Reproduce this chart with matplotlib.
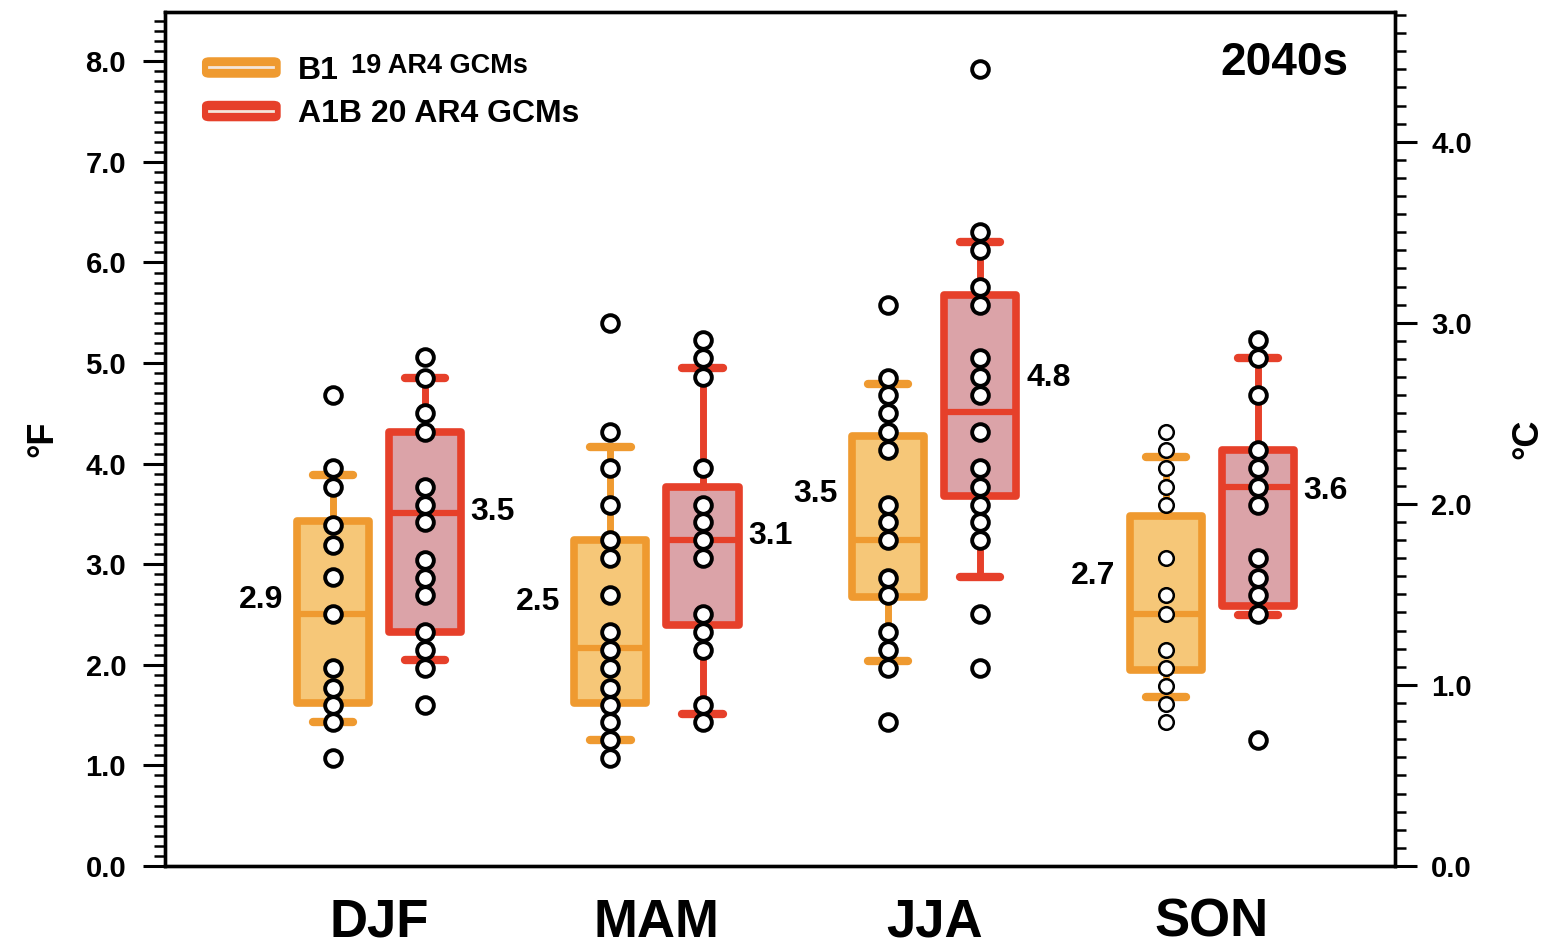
import numpy as np
import matplotlib
matplotlib.use("Agg")
import matplotlib.pyplot as plt
from matplotlib.patches import FancyBboxPatch
from matplotlib.ticker import MultipleLocator, FormatStrFormatter

plt.rcParams['font.family'] = ['Liberation Sans', 'DejaVu Sans']
plt.rcParams['font.weight'] = 'bold'

seasons = ["DJF", "MAM", "JJA", "SON"]

# individual GCM values (deg F)
b1_points = [
    [4.68, 3.96, 3.77, 3.39, 3.19, 2.87, 2.51, 1.97, 1.77, 1.60, 1.43, 1.07],
    [5.40, 4.31, 3.96, 3.59, 3.24, 3.06, 2.69, 2.33, 2.15, 1.97, 1.77, 1.60, 1.43, 1.25, 1.07],
    [5.58, 4.85, 4.68, 4.50, 4.31, 4.14, 3.59, 3.42, 3.24, 2.86, 2.69, 2.33, 2.15, 1.97, 1.43],
    [4.31, 4.14, 3.96, 3.77, 3.59, 3.06, 2.69, 2.51, 2.15, 1.97, 1.79, 1.61, 1.43],
]
a1b_points = [
    [5.06, 4.85, 4.50, 4.31, 3.77, 3.59, 3.42, 3.04, 2.86, 2.69, 2.33, 2.15, 1.97, 1.60],
    [5.23, 5.05, 4.86, 3.96, 3.59, 3.42, 3.24, 3.06, 2.51, 2.33, 2.15, 1.60, 1.43],
    [7.92, 6.30, 6.12, 5.76, 5.58, 5.05, 4.86, 4.68, 4.31, 3.96, 3.77, 3.59, 3.42, 3.24, 2.51, 1.97],
    [5.23, 5.05, 4.68, 4.14, 3.96, 3.77, 3.59, 3.06, 2.86, 2.69, 2.51, 1.25],
]

# box statistics
b1_q1 = [1.62, 1.62, 2.67, 1.95]
b1_med = [2.51, 2.17, 3.24, 2.51]
b1_q3 = [3.43, 3.24, 4.27, 3.48]
b1_lo = [1.43, 1.25, 2.04, 1.68]
b1_hi = [3.89, 4.17, 4.79, 4.07]

a1b_q1 = [2.33, 2.40, 3.68, 2.58]
a1b_med = [3.51, 3.24, 4.51, 3.77]
a1b_q3 = [4.31, 3.77, 5.68, 4.14]
a1b_lo = [2.05, 1.51, 2.87, 2.50]
a1b_hi = [4.85, 4.95, 6.20, 5.05]

# mean labels
b1_mean_txt = ["2.9", "2.5", "3.5", "2.7"]
b1_mean_y = [2.64, 2.62, 3.70, 2.88]
a1b_mean_txt = ["3.5", "3.1", "4.8", "3.6"]
a1b_mean_y = [3.52, 3.28, 4.85, 3.73]

orange = "#EF9A30"
orange_fill = "#F6C778"
red = "#E6402A"
red_fill = "#DBA3A8"

fig = plt.figure(figsize=(15.5, 9.51), dpi=100)
ax = fig.add_axes([0.1065, 0.0894, 0.7935, 0.898])

x = np.arange(4)
off = 0.166
bw = 0.26


def stats(q1, med, q3, lo, hi):
    return [dict(q1=a, med=b, q3=c, whislo=d, whishi=e, fliers=[])
            for a, b, c, d, e in zip(q1, med, q3, lo, hi)]


def draw(st, pos, edge, fill):
    ax.bxp(st, positions=pos, widths=bw, capwidths=0.145, patch_artist=True,
           showfliers=False, manage_ticks=False,
           boxprops=dict(facecolor=fill, edgecolor=edge, linewidth=5.5, joinstyle='round'),
           medianprops=dict(color=edge, linewidth=4.5),
           whiskerprops=dict(color=edge, linewidth=5),
           capprops=dict(color=edge, linewidth=6, solid_capstyle='round'),
           zorder=2)


draw(stats(b1_q1, b1_med, b1_q3, b1_lo, b1_hi), x - off, orange, orange_fill)
draw(stats(a1b_q1, a1b_med, a1b_q3, a1b_lo, a1b_hi), x + off, red, red_fill)

for i in range(4):
    ms, mew = (12, 2.8) if i < 3 else (10.5, 1.8)
    ax.plot([x[i] - off] * len(b1_points[i]), b1_points[i], 'o', ms=ms, mfc='white',
            mec='black', mew=mew, zorder=4)
    ax.plot([x[i] + off] * len(a1b_points[i]), a1b_points[i], 'o', ms=12, mfc='white',
            mec='black', mew=2.8, zorder=4)
    ax.text(x[i] - off - bw / 2 - 0.05, b1_mean_y[i], b1_mean_txt[i], ha='right',
            va='center', fontsize=23, fontweight='bold')
    ax.text(x[i] + off + bw / 2 + 0.035, a1b_mean_y[i], a1b_mean_txt[i], ha='left',
            va='center', fontsize=23, fontweight='bold')

ax.set_xlim(-0.77, 3.66)
ax.set_ylim(0, 8.49)
ax.set_xticks(x)
ax.set_xticklabels(seasons, fontsize=38, fontweight='bold')
ax.tick_params(axis='x', length=0, pad=23)

ax.yaxis.set_major_locator(MultipleLocator(1.0))
ax.yaxis.set_minor_locator(MultipleLocator(0.1))
ax.yaxis.set_major_formatter(FormatStrFormatter('%.1f'))
ax.tick_params(axis='y', which='major', length=16, width=2.2, labelsize=21, pad=12)
ax.tick_params(axis='y', which='minor', length=8, width=1.8)
for lab in ax.get_yticklabels():
    lab.set_fontweight('bold')
for s in ax.spines.values():
    s.set_linewidth(2.4)
ax.set_ylabel("°F", fontsize=26, fontweight='bold', labelpad=18)

ax2 = ax.twinx()
ax2.set_ylim(0, 8.49 * 5 / 9)
ax2.yaxis.set_major_locator(MultipleLocator(1.0))
ax2.yaxis.set_minor_locator(MultipleLocator(0.1))
ax2.yaxis.set_major_formatter(FormatStrFormatter('%.1f'))
ax2.tick_params(axis='y', which='major', length=16, width=2.2, labelsize=21, pad=10)
ax2.tick_params(axis='y', which='minor', length=8, width=1.8)
for lab in ax2.get_yticklabels():
    lab.set_fontweight('bold')
for s in ax2.spines.values():
    s.set_linewidth(2.4)
ax2.set_ylabel("°C", fontsize=26, fontweight='bold', labelpad=28)

# legend drawn by hand
for yy, col, big, small in [(0.935, orange, "B1", "19 AR4 GCMs"),
                            (0.884, red, "A1B", "20 AR4 GCMs")]:
    ax.add_patch(FancyBboxPatch((0.03, yy - 0.012), 0.064, 0.024,
                                boxstyle="round,pad=0,rounding_size=0.006",
                                transform=ax.transAxes, facecolor=col,
                                edgecolor='none', zorder=5))
    ax.plot([0.036, 0.088], [yy, yy], transform=ax.transAxes, color='#F4E6DA',
            lw=2, zorder=6)
    if big == "B1":
        ax.text(0.108, yy - 0.004, big, transform=ax.transAxes, fontsize=23,
                fontweight='bold', va='center')
        ax.text(0.151, yy + 0.002, small, transform=ax.transAxes, fontsize=19.5,
                fontweight='bold', va='center')
    else:
        ax.text(0.108, yy - 0.004, big + " " + small, transform=ax.transAxes,
                fontsize=23, fontweight='bold', va='center')

ax.text(0.962, 0.94, "2040s", transform=ax.transAxes, ha='right', va='center',
        fontsize=33, fontweight='bold')

fig.savefig("out.png", dpi=100)
